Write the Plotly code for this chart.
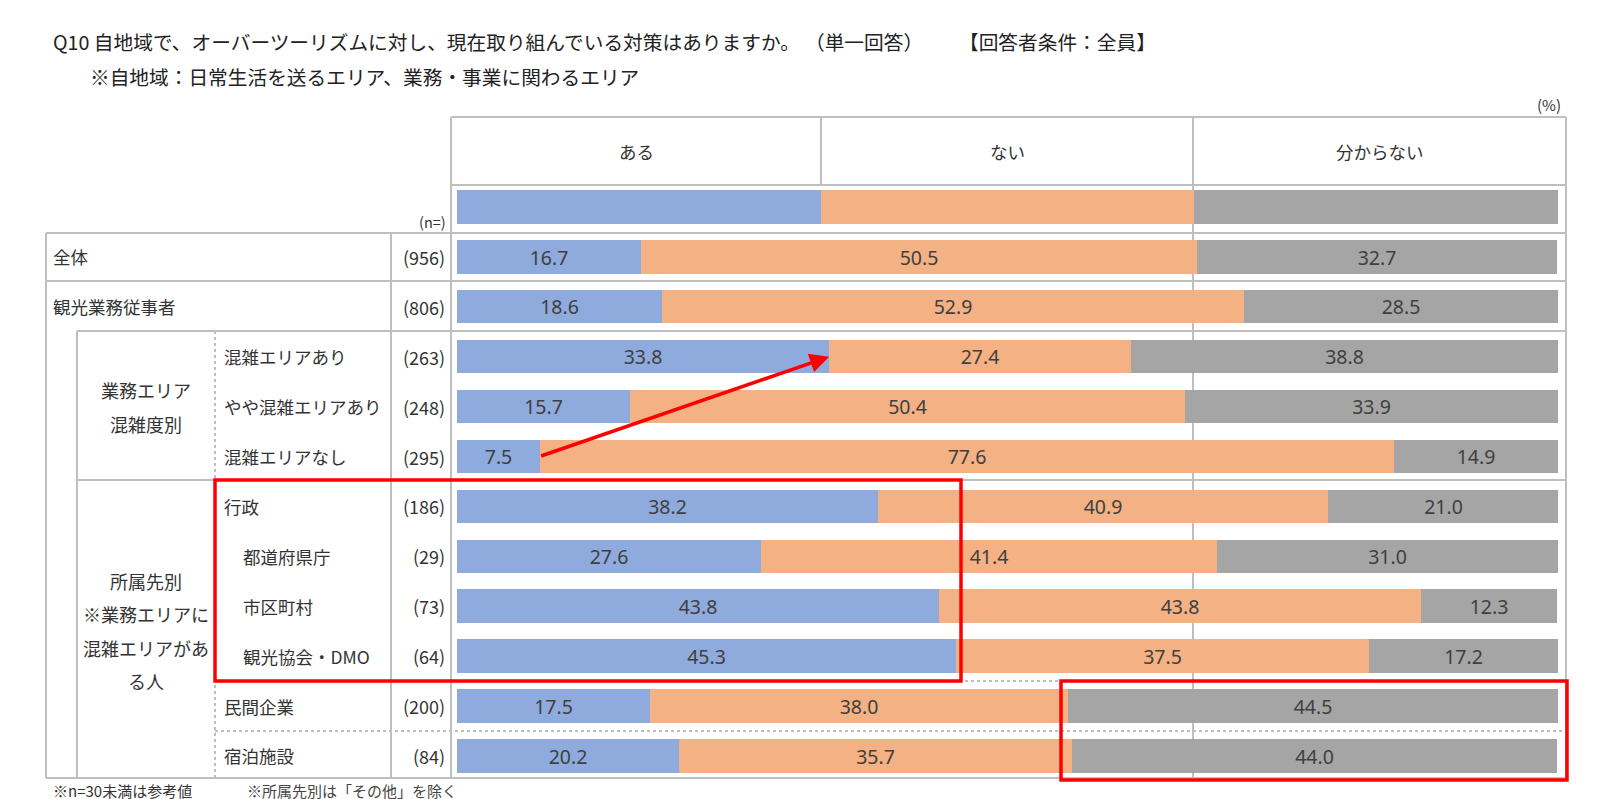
import plotly.graph_objects as go

W, H = 1600, 799

# ---------------- data ----------------
series_names = ["ある", "ない", "分からない"]
row_labels = ["全体", "観光業務従事者", "混雑エリアあり", "やや混雑エリアあり", "混雑エリアなし",
              "行政", "都道府県庁", "市区町村", "観光協会・DMO", "民間企業", "宿泊施設"]
n_values = ["(956)", "(806)", "(263)", "(248)", "(295)", "(186)", "(29)", "(73)", "(64)", "(200)", "(84)"]
aru = [16.7, 18.6, 33.8, 15.7, 7.5, 38.2, 27.6, 43.8, 45.3, 17.5, 20.2]
nai = [50.5, 52.9, 27.4, 50.4, 77.6, 40.9, 41.4, 43.8, 37.5, 38.0, 35.7]
wakaranai = [32.7, 28.5, 38.8, 33.9, 14.9, 21.0, 31.0, 12.3, 17.2, 44.5, 44.0]
legend_bar = [33.1, 33.8, 33.1]
group1_lines = ["業務エリア", "混雑度別"]
group2_lines = ["所属先別", "※業務エリアに", "混雑エリアがあ", "る人"]
indented = ["都道府県庁", "市区町村", "観光協会・DMO"]

colors = ["#8FAADC", "#F4B183", "#A5A5A5"]
LEG = " "
cats = [LEG] + row_labels

def px(x):
    return x / W

def py(y):
    return 1 - y / H

FONT = "Noto Sans CJK JP"
TXT = "#333333"

fig = go.Figure()

# legend row bar (header colour key)
for i, (name, v) in enumerate(zip(series_names, legend_bar)):
    fig.add_trace(go.Bar(y=[LEG], x=[v], orientation="h", marker=dict(color=colors[i], line=dict(width=0)),
                         width=0.67, showlegend=False, hoverinfo="skip"))

for i, (name, vals) in enumerate(zip(series_names, [aru, nai, wakaranai])):
    fig.add_trace(go.Bar(
        y=row_labels, x=vals, orientation="h", name=name,
        marker=dict(color=colors[i], line=dict(width=0)), width=0.67,
        text=[f"{v:.1f}" for v in vals], textposition="inside", insidetextanchor="middle",
        textangle=0, constraintext="none",
        textfont=dict(family="Noto Sans", size=19.5, color="#404040"),
        showlegend=False, hoverinfo="skip"))

# axes: bar area 449..1550 px, rows centred 199 + 49.9*i
y_top = 199 - 24.95
y_bot = 199 + 49.9 * 11 + 24.95
fig.update_layout(
    width=W, height=H, margin=dict(l=0, r=0, t=0, b=0),
    paper_bgcolor="white", plot_bgcolor="rgba(0,0,0,0)",
    barmode="stack", bargap=0,
    xaxis=dict(domain=[px(449), px(1550)], range=[0, 100], visible=False, fixedrange=True),
    yaxis=dict(domain=[py(y_bot), py(y_top)], type="category", categoryorder="array",
               categoryarray=cats, range=[len(cats) - 0.5, -0.5], visible=False, fixedrange=True),
    font=dict(family=FONT, color=TXT),
)

shapes = []
GRID = "#BFBFBF"

def hline(y, x0, x1, dash="solid", w=2):
    shapes.append(dict(type="line", xref="paper", yref="paper", x0=px(x0), x1=px(x1), y0=py(y), y1=py(y),
                       line=dict(color=GRID, width=w, dash=dash), layer="below"))

def vline(x, y0, y1, dash="solid", w=2):
    shapes.append(dict(type="line", xref="paper", yref="paper", x0=px(x), x1=px(x), y0=py(y0), y1=py(y1),
                       line=dict(color=GRID, width=w, dash=dash), layer="below"))

hline(109, 443, 1558)
hline(177, 443, 1558)
hline(225, 38, 1558)
hline(273, 38, 1558)
hline(323, 69, 1558)
hline(472, 69, 1558)
hline(673, 207, 1558, dash="dot")
hline(723, 207, 1558, dash="dot")
hline(770, 38, 1558)

vline(38, 225, 770)
vline(69, 323, 770)
vline(207, 323, 770, dash="dot")
vline(383, 225, 770)
vline(443, 109, 770)
vline(813, 109, 177)
vline(1185, 109, 770)
vline(1558, 109, 770)

# red highlight boxes
RED = "#FF0000"
shapes.append(dict(type="rect", xref="paper", yref="paper", x0=px(207), x1=px(953), y0=py(472), y1=py(673),
                   line=dict(color=RED, width=3.5), fillcolor="rgba(0,0,0,0)", layer="above"))
shapes.append(dict(type="rect", xref="paper", yref="paper", x0=px(1053), x1=px(1559), y0=py(673), y1=py(772),
                   line=dict(color=RED, width=3.5), fillcolor="rgba(0,0,0,0)", layer="above"))
fig.update_layout(shapes=shapes)

ann = []

def text(x, y, s, size=17, xanchor="left", color=TXT, family=FONT):
    ann.append(dict(x=px(x), y=py(y), xref="paper", yref="paper", text=s, showarrow=False,
                    xanchor=xanchor, yanchor="middle", font=dict(size=size, color=color, family=family)))

# titles
TS = 19.7
text(43, 33, "Q10 自地域で、オーバーツーリズムに対し、現在取り組んでいる対策はありますか。", size=TS, color="#222222")
text(795, 33, "（単一回答）", size=TS, color="#222222")
text(949, 33, "【回答者条件：全員】", size=TS, color="#222222")
text(80, 68, "※自地域：日常生活を送るエリア、業務・事業に関わるエリア", size=TS, color="#222222")
text(1555, 97, "(%)", size=15, xanchor="right")
text(440, 214, "(n=)", size=14.5, xanchor="right")

# header cells
text((443 + 813) / 2, 143, series_names[0], size=17.5, xanchor="center")
text((813 + 1185) / 2, 143, series_names[1], size=17.5, xanchor="center")
text((1185 + 1558) / 2, 143, series_names[2], size=17.5, xanchor="center")

# row labels and n
row_y = [199 + 49.9 * (i + 1) for i in range(len(row_labels))]
for i, (lab, n) in enumerate(zip(row_labels, n_values)):
    if i < 2:
        lx = 43
    elif lab in indented:
        lx = 233
    else:
        lx = 214
    text(lx, row_y[i], lab, size=17.5)
    text(439, row_y[i], n, size=18, xanchor="right")

# group labels
g1c = (row_y[2] + row_y[4]) / 2
for k, s in enumerate(group1_lines):
    text(138, g1c + (k - 0.5) * 34, s, size=18, xanchor="center")
g2c = (row_y[5] + row_y[10]) / 2
for k, s in enumerate(group2_lines):
    text(138, g2c + (k - 1.5) * 33.5, s, size=18, xanchor="center")

# footnotes
text(43, 782, "※n=30未満は参考値", size=15)
text(237, 782, "※所属先別は「その他」を除く", size=15, color="#444444")

# red arrow: from end of 'ある' in 混雑エリアなし to end of 'ある' in 混雑エリアあり
i_from = cats.index("混雑エリアなし")
i_to = cats.index("混雑エリアあり")
ann.append(dict(x=aru[row_labels.index("混雑エリアあり")], y=i_to, xref="x", yref="y",
                ax=aru[row_labels.index("混雑エリアなし")], ay=i_from, axref="x", ayref="y",
                showarrow=True, arrowhead=2, arrowsize=1.1, arrowwidth=3.5, arrowcolor=RED,
                standoff=0, startstandoff=0, text=""))

fig.update_layout(annotations=ann, hovermode=False)
fig.write_html("out.html")
